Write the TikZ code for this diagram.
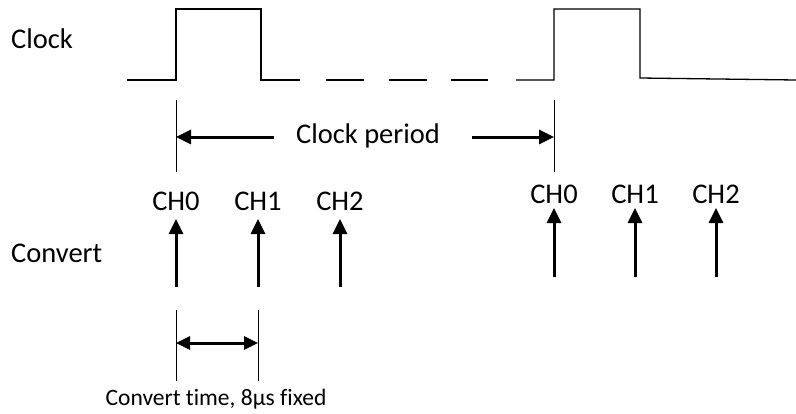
\documentclass[tikz,border=0pt]{standalone}
\usepackage{fontspec}
\setmainfont{Carlito}[Ligatures=NoCommon]
\usetikzlibrary{arrows.meta}

\tikzset{
  big/.style={inner sep=0pt, font=\fontsize{28.5}{30}\selectfont},
  small/.style={inner sep=0pt, font=\fontsize{23.5}{25}\selectfont},
  wave/.style={line width=1.3pt},
  tick/.style={line width=1pt},
  arr/.style={line width=3pt, -{Triangle[length=15pt,width=14pt]}},
  dim/.style={line width=3pt, {Triangle[length=14pt,width=13pt]}-{Triangle[length=14pt,width=13pt]}}
}

\begin{document}
\begin{tikzpicture}[x=1pt,y=-1pt]
    \useasboundingbox (0,0) rectangle (796,413);

    % labels on the left
    \node [big, anchor=base west] (clk) at (11,48) {Clock};
    \node [big, anchor=base west] (cnv) at (11,262) {Convert};

    % clock waveform
    \draw [wave] (127,80) -- (176,80) -- (176,9) -- (261,9) -- (261,80) -- (300,80);
    \draw [wave] (326,80) -- (364,80);
    \draw [wave] (389,80) -- (427,80);
    \draw [wave] (451,80) -- (488,80);
    \draw [wave] (516,80) -- (554,80) -- (554,9) -- (640,9) -- (640,78) -- (796,80);

    % clock period
    \coordinate (pa1) at (176,100);
    \coordinate (pa2) at (176,172);
    \coordinate (pb1) at (554,100);
    \coordinate (pb2) at (554,172);
    \draw [tick] (pa1) -- (pa2);
    \draw [tick] (pb1) -- (pb2);
    \node [big, anchor=base] (per) at (368,143) {Clock period};
    \coordinate (la) at (274,137);
    \coordinate (ra) at (472,137);
    \draw [arr] (la) -- (176,137);
    \draw [arr] (ra) -- (554,137);

    % conversions
    \foreach \x/\n [count=\i] in {176/0, 258/1, 340/2} {
        \node [big, anchor=base] (cha\i) at (\x,210) {CH\n};
        \coordinate (sa\i) at (\x,287);
        \draw [arr] (sa\i) -- (\x,219);
    }
    \foreach \x/\n [count=\i] in {554/0, 635/1, 716/2} {
        \node [big, anchor=base] (chb\i) at (\x,203) {CH\n};
        \coordinate (sb\i) at (\x,277);
        \draw [arr] (sb\i) -- (\x,208);
    }

    % convert time
    \coordinate (ca1) at (176,310);
    \coordinate (ca2) at (176,381);
    \coordinate (cb1) at (258,310);
    \coordinate (cb2) at (258,381);
    \draw [tick] (ca1) -- (ca2);
    \draw [tick] (cb1) -- (cb2);
    \draw [dim] (176,343) -- (258,343);
    \node [small, anchor=base] (ctime) at (216,405) {Convert time, 8µs fixed};
\end{tikzpicture}
\end{document}
